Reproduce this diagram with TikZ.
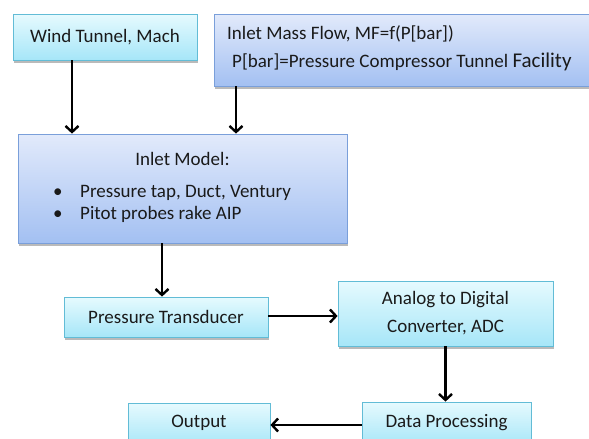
\documentclass[tikz,border=0pt]{standalone}
\usepackage{fontspec}
\setmainfont{Carlito}
\usetikzlibrary{arrows.meta,shadows,calc}
\definecolor{cyTop}{HTML}{E6FAFE}
\definecolor{cyBot}{HTML}{A6E6F8}
\definecolor{cyLine}{HTML}{62BCD6}
\definecolor{blTop}{HTML}{E2EAFB}
\definecolor{blBot}{HTML}{A3C0F2}
\definecolor{blLine}{HTML}{7A9FDA}
\definecolor{ink}{HTML}{1A1A1A}
\tikzset{
  base/.style={rectangle, line width=0.8pt, inner sep=0pt, text=ink, font=\fontsize{19}{23}\selectfont,
    drop shadow={shadow xshift=1pt, shadow yshift=-2.5pt, opacity=0.45, fill=black!60}},
  cybox/.style={base, draw=cyLine, top color=cyTop, bottom color=cyBot},
  blbox/.style={base, draw=blLine, top color=blTop, bottom color=blBot},
  txt/.style={font=\fontsize{19}{23}\selectfont, text=ink, inner sep=0pt, anchor=base west},
  arr/.style={line width=2.6pt, -{Straight Barb[length=6pt,width=13pt,line width=2.4pt]}}
}
\begin{document}
\begin{tikzpicture}[x=1pt,y=-1pt]
\useasboundingbox[fill=white] (0,0) rectangle (589,439);
% boxes
\node[cybox, minimum width=184, minimum height=46] (wt) at (105,37) {Wind Tunnel, Mach};
\node[blbox, minimum width=378, minimum height=72] (mf) at (403,50) {};
\node[blbox, minimum width=329, minimum height=109] (im) at (182.5,188.5) {};
\node[cybox, minimum width=204, minimum height=40] (pt) at (166,317) {Pressure Transducer};
\node[cybox, minimum width=215, minimum height=65, align=center] (adc) at (445.5,313.5) {Analog to Digital\\[5pt]Converter, ADC};
\node[cybox, minimum width=169, minimum height=44] (dp) at (446.5,424) {};
\node[cybox, minimum width=142, minimum height=44] (out) at (199,425) {};
% texts
\node[txt] (mf1) at (227,39) {Inlet Mass Flow, MF=f(P[bar])};
\node[txt] (mf2) at (232,67) {P[bar]=Pressure Compressor Tunnel {\fontsize{21}{23}\selectfont Facility}};
\node[txt, anchor=base] (im1) at (182.5,165) {Inlet Model:};
\node[txt] (ib1) at (53,197) {•};
\node[txt] (im2) at (80,197) {Pressure tap, Duct, Ventury};
\node[txt] (ib2) at (53,219) {•};
\node[txt] (im3) at (80,219) {Pitot probes rake AIP};
\node[txt, anchor=base] (dpt) at (446.5,427) {Data Processing};
\node[txt, anchor=base] (outt) at (199,427) {Output};
% connectors
\draw[arr] ([xshift=-33pt]wt.south) -- ([xshift=-33pt]wt.south |- im.north);
\draw[arr] ([xshift=-167pt]mf.south) -- ([xshift=-167pt]mf.south |- im.north);
\draw[arr] ([xshift=-20.5pt]im.south) -- ([xshift=-20.5pt]im.south |- pt.north);
\draw[arr] ([yshift=1pt]pt.east) -- ([yshift=1pt]pt.east -| adc.west);
\draw[arr] (adc.south) -- (adc.south |- dp.north);
\draw[arr] ([yshift=-1pt]dp.west) -- ([yshift=-1pt]dp.west -| out.east);
\end{tikzpicture}
\end{document}
